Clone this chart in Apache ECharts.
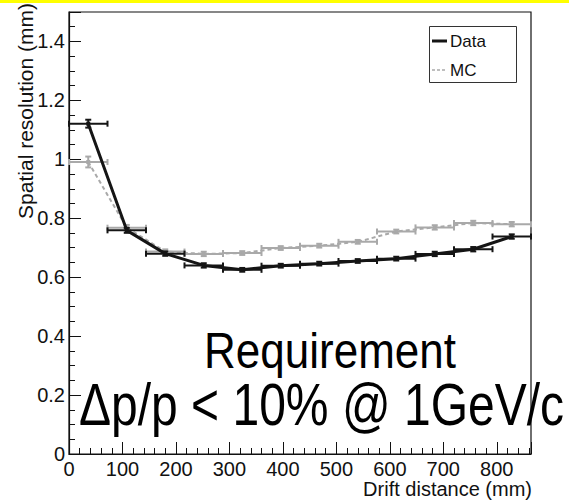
<!DOCTYPE html>
<html>
<head>
<meta charset="utf-8">
<script src="https://cdn.jsdelivr.net/npm/echarts@6/dist/echarts.min.js"></script>
<style>
  html, body { margin: 0; padding: 0; background: #ffffff; }
  #chart { width: 569px; height: 500px; }
</style>
</head>
<body>
<div id="chart"></div>
<script>
// Drift-distance bins: 12 bins of 72 mm, given by their centres (mm)
const driftBins = [36, 108, 180, 252, 324, 396, 468, 540, 612, 684, 756, 828];
const binHalfWidth = 36;

// Measured spatial resolution (mm) and its statistical error
const dataResolution = [1.121, 0.759, 0.680, 0.640, 0.625, 0.639, 0.646, 0.655, 0.663, 0.679, 0.695, 0.738];
const dataError      = [0.010, 0.005, 0.004, 0.004, 0.003, 0.003, 0.003, 0.003, 0.003, 0.004, 0.004, 0.004];

// Monte-Carlo spatial resolution (mm) and its error
const mcResolution = [0.991, 0.768, 0.687, 0.679, 0.682, 0.699, 0.707, 0.720, 0.755, 0.769, 0.784, 0.780];
const mcError      = [0.015, 0.006, 0.004, 0.004, 0.003, 0.003, 0.003, 0.003, 0.003, 0.004, 0.004, 0.004];

// Labelled axis ticks
const xTicks = [0, 100, 200, 300, 400, 500, 600, 700, 800];
const yTicks = [0, 0.2, 0.4, 0.6, 0.8, 1, 1.2, 1.4];

const axisColor = '#111111';
const dataColor = '#151515';
const mcColor = '#a9a9a9';
const font = 'Liberation Sans, Arial, Helvetica, sans-serif';

function rows(values, errors) {
  return driftBins.map((x, i) => [x, values[i], errors[i], binHalfWidth]);
}

// Horizontal bin-width bar plus vertical error bar, both with end caps
function errorBars(color, width) {
  return function (params, api) {
    const x = api.value(0), y = api.value(1), e = api.value(2), h = api.value(3);
    const l = api.coord([x - h, y]);
    const r = api.coord([x + h, y]);
    const t = api.coord([x, y + e]);
    const b = api.coord([x, y - e]);
    const cap = 3;
    const style = { stroke: color, lineWidth: width };
    const seg = (x1, y1, x2, y2) => ({ type: 'line', shape: { x1, y1, x2, y2 }, style });
    return {
      type: 'group',
      children: [
        seg(l[0], l[1], r[0], r[1]),
        seg(l[0], l[1] - cap, l[0], l[1] + cap),
        seg(r[0], r[1] - cap, r[0], r[1] + cap),
        seg(t[0], t[1] - 1, b[0], b[1] + 1),
        seg(t[0] - cap, t[1] - 1, t[0] + cap, t[1] - 1),
        seg(b[0] - cap, b[1] + 1, b[0] + cap, b[1] + 1)
      ]
    };
  };
}

const chart = echarts.init(document.getElementById('chart'), null, { renderer: 'svg' });

const option = {
  backgroundColor: '#ffffff',
  animation: false,
  grid: {
    left: 69, right: 38, top: 12, bottom: 46,
    show: true, borderColor: axisColor, borderWidth: 1.2, backgroundColor: 'transparent'
  },
  xAxis: {
    type: 'value',
    min: 0, max: 864, interval: 100,
    axisLine: { show: true, onZero: false, lineStyle: { color: axisColor, width: 1.2 } },
    axisTick: { show: true, inside: true, length: 12, lineStyle: { color: axisColor, width: 1 } },
    minorTick: { show: true, splitNumber: 5, length: 6, lineStyle: { color: axisColor, width: 1 } },
    splitLine: { show: false },
    axisLabel: {
      color: axisColor, fontFamily: font, fontSize: 20, margin: 5,
      showMaxLabel: false,
      formatter: v => (xTicks.indexOf(v) >= 0 ? String(v) : '')
    }
  },
  yAxis: {
    type: 'value',
    min: 0, max: 1.5, interval: 0.2,
    axisLine: { show: true, onZero: false, lineStyle: { color: axisColor, width: 1.2 } },
    axisTick: { show: true, inside: true, length: 12, lineStyle: { color: axisColor, width: 1 } },
    minorTick: { show: true, splitNumber: 4, length: 6, lineStyle: { color: axisColor, width: 1 } },
    splitLine: { show: false },
    axisLabel: {
      color: axisColor, fontFamily: font, fontSize: 20, margin: 4,
      showMaxLabel: false,
      formatter: v => {
        const hit = yTicks.find(t => Math.abs(t - v) < 1e-6);
        return hit === undefined ? '' : String(hit);
      }
    }
  },
  series: [
    {
      name: 'MC', type: 'line',
      data: driftBins.map((x, i) => [x, mcResolution[i]]),
      symbol: 'rect', symbolSize: 4,
      itemStyle: { color: mcColor },
      lineStyle: { color: mcColor, width: 2, type: [4, 3] },
      z: 2
    },
    {
      name: 'MC bars', type: 'custom',
      data: rows(mcResolution, mcError),
      encode: { x: 0, y: 1 },
      renderItem: errorBars(mcColor, 2),
      z: 3
    },
    {
      name: 'Data', type: 'line',
      data: driftBins.map((x, i) => [x, dataResolution[i]]),
      symbol: 'rect', symbolSize: 4,
      itemStyle: { color: dataColor },
      lineStyle: { color: dataColor, width: 3 },
      z: 4
    },
    {
      name: 'Data bars', type: 'custom',
      data: rows(dataResolution, dataError),
      encode: { x: 0, y: 1 },
      renderItem: errorBars(dataColor, 2),
      z: 5
    }
  ],
  graphic: [
    // yellow strip along the top edge
    { type: 'rect', left: 0, top: 0, shape: { width: 569, height: 3 }, style: { fill: '#ffff00' }, z: 10 },
    // axis titles
    {
      type: 'text', x: 25, y: 3, rotation: Math.PI / 2,
      style: { text: 'Spatial resolution (mm)', fill: axisColor, font: '21px ' + font, textAlign: 'right', textVerticalAlign: 'middle' },
      z: 10
    },
    {
      type: 'text', x: 532, y: 489,
      style: { text: 'Drift distance (mm)', fill: axisColor, font: '20px ' + font, textAlign: 'right', textVerticalAlign: 'middle' },
      z: 10
    },
    // legend
    {
      type: 'group', z: 10,
      children: [
        { type: 'rect', shape: { x: 429.5, y: 26.5, width: 87, height: 56 }, style: { fill: '#ffffff', stroke: '#333333', lineWidth: 1 } },
        { type: 'line', shape: { x1: 432, y1: 41, x2: 447, y2: 41 }, style: { stroke: dataColor, lineWidth: 3 } },
        { type: 'text', x: 450, y: 41, style: { text: 'Data', fill: axisColor, font: '17px ' + font, textVerticalAlign: 'middle' } },
        { type: 'line', shape: { x1: 432, y1: 70, x2: 447, y2: 70 }, style: { stroke: mcColor, lineWidth: 1.5, lineDash: [3, 2] } },
        { type: 'text', x: 450, y: 70, style: { text: 'MC', fill: axisColor, font: '17px ' + font, textVerticalAlign: 'middle' } }
      ]
    },
    // annotation
    {
      type: 'text', x: 330, y: 351, scaleY: 1.12,
      style: { text: 'Requirement', fill: '#000000', font: '44px ' + font, textAlign: 'center', textVerticalAlign: 'middle' },
      z: 10
    },
    {
      type: 'text', x: 79, y: 405, scaleY: 1.25,
      style: { text: 'Δp/p < 10% @ 1GeV/c', fill: '#000000', font: '48px ' + font, textAlign: 'left', textVerticalAlign: 'middle' },
      z: 10
    }
  ]
};

chart.setOption(option);
</script>
</body>
</html>
